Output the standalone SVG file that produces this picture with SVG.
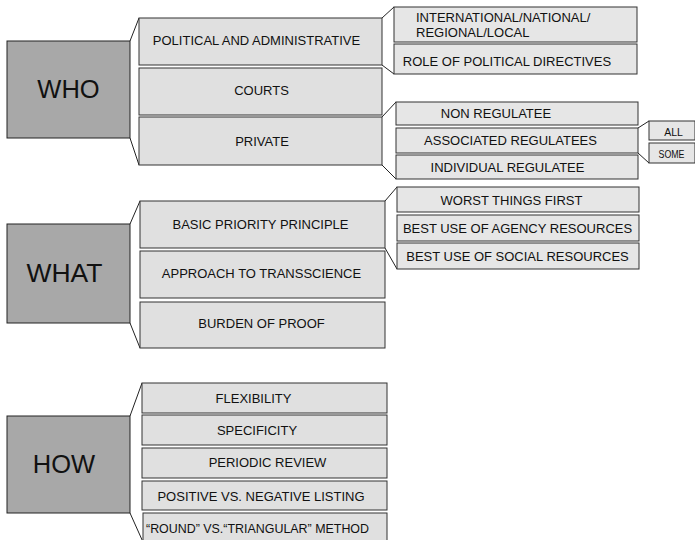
<svg xmlns="http://www.w3.org/2000/svg" width="695" height="540" viewBox="0 0 695 540">
<style>
.main{fill:#a8a8a8;stroke:#222;stroke-width:1}
.box{fill:#e0e0e0;stroke:#333;stroke-width:1}
.sub{fill:#e6e6e6;stroke:#333;stroke-width:1}
.big{font-family:"Liberation Sans",Arial,sans-serif;font-size:25.5px;fill:#111;text-anchor:middle}
.t{font-family:"Liberation Sans",Arial,sans-serif;font-size:13px;fill:#111;text-anchor:middle}
.tl{font-family:"Liberation Sans",Arial,sans-serif;font-size:13px;fill:#111}
.s{font-family:"Liberation Sans",Arial,sans-serif;font-size:10.5px;fill:#111;text-anchor:middle}
.c line{stroke:#222;stroke-width:1}
</style>
<rect width="695" height="540" fill="#fff"/>
<g class="c" id="connectors">
<line x1="130" y1="41" x2="139" y2="18"/>
<line x1="130" y1="138" x2="139" y2="165"/>
<line x1="382" y1="18" x2="394" y2="7"/>
<line x1="382" y1="65" x2="394" y2="74"/>
<line x1="382" y1="117" x2="396" y2="102"/>
<line x1="382" y1="165" x2="396" y2="179"/>
<line x1="638" y1="128" x2="649" y2="121"/>
<line x1="638" y1="153" x2="649" y2="163"/>
<line x1="130" y1="224" x2="140" y2="201"/>
<line x1="130" y1="323" x2="140" y2="348"/>
<line x1="385" y1="201" x2="397" y2="187"/>
<line x1="385" y1="248" x2="397" y2="269"/>
<line x1="130" y1="416" x2="142" y2="383"/>
<line x1="130" y1="513" x2="143" y2="542"/>
</g>
<g id="who"><rect class="main" x="7" y="41" width="123" height="97"/><text class="big" x="68.5" y="98">WHO</text></g>
<g id="political"><rect class="box" x="139" y="18" width="243" height="47"/><text class="t" x="256.5" y="45">POLITICAL AND ADMINISTRATIVE</text></g>
<g id="courts"><rect class="box" x="139" y="68" width="243" height="47"/><text class="t" x="261.5" y="95">COURTS</text></g>
<g id="private"><rect class="box" x="139" y="117" width="243" height="48"/><text class="t" x="262" y="145.5">PRIVATE</text></g>
<g id="international"><rect class="sub" x="394" y="7" width="243" height="35"/><text class="tl" x="416" y="22">INTERNATIONAL/NATIONAL/</text><text class="tl" x="416" y="37">REGIONAL/LOCAL</text></g>
<g id="role"><rect class="sub" x="394" y="44" width="243" height="30"/><text class="t" x="507" y="65.5">ROLE OF POLITICAL DIRECTIVES</text></g>
<g id="nonregulatee"><rect class="sub" x="396" y="102" width="242" height="23"/><text class="t" x="496" y="117.5">NON REGULATEE</text></g>
<g id="associated"><rect class="sub" x="396" y="128" width="242" height="25"/><text class="t" x="510.5" y="145">ASSOCIATED REGULATEES</text></g>
<g id="individual"><rect class="sub" x="396" y="155" width="242" height="24"/><text class="t" x="507.5" y="172">INDIVIDUAL REGULATEE</text></g>
<g id="all"><rect class="sub" x="649" y="121" width="46" height="19"/><text class="s" x="673.5" y="135.5">ALL</text></g>
<g id="some"><rect class="sub" x="649" y="143" width="46" height="20"/><text class="s" x="671.5" y="157.5" textLength="26" lengthAdjust="spacingAndGlyphs">SOME</text></g>
<g id="what"><rect class="main" x="7" y="224" width="123" height="99"/><text class="big" x="64.5" y="282" style="font-size:26.5px">WHAT</text></g>
<g id="basic"><rect class="box" x="140" y="201" width="245" height="47"/><text class="t" x="260.5" y="229">BASIC PRIORITY PRINCIPLE</text></g>
<g id="approach"><rect class="box" x="140" y="251" width="245" height="47"/><text class="t" x="261.5" y="278">APPROACH TO TRANSSCIENCE</text></g>
<g id="burden"><rect class="box" x="140" y="302" width="245" height="46"/><text class="t" x="261.5" y="328">BURDEN OF PROOF</text></g>
<g id="worst"><rect class="sub" x="397" y="187" width="242" height="25"/><text class="t" x="511.5" y="205">WORST THINGS FIRST</text></g>
<g id="agency"><rect class="sub" x="397" y="215" width="242" height="26"/><text class="t" x="517.5" y="232.5">BEST USE OF AGENCY RESOURCES</text></g>
<g id="social"><rect class="sub" x="397" y="243" width="242" height="26"/><text class="t" x="517.5" y="261">BEST USE OF SOCIAL RESOURCES</text></g>
<g id="how"><rect class="main" x="7" y="416" width="123" height="97"/><text class="big" x="64" y="473">HOW</text></g>
<g id="flexibility"><rect class="box" x="142" y="383" width="245" height="30"/><text class="t" x="253.5" y="402.5">FLEXIBILITY</text></g>
<g id="specificity"><rect class="box" x="142" y="415" width="245" height="30"/><text class="t" x="257" y="435">SPECIFICITY</text></g>
<g id="periodic"><rect class="box" x="142" y="448" width="245" height="30"/><text class="t" x="267.5" y="467">PERIODIC REVIEW</text></g>
<g id="positive"><rect class="box" x="142" y="481" width="245" height="29"/><text class="t" x="261" y="501">POSITIVE VS. NEGATIVE LISTING</text></g>
<g id="round"><rect class="box" x="143" y="513" width="244" height="32"/><text class="t" x="257.5" y="532.5" textLength="223" lengthAdjust="spacingAndGlyphs">“ROUND” VS.“TRIANGULAR” METHOD</text></g>
</svg>
